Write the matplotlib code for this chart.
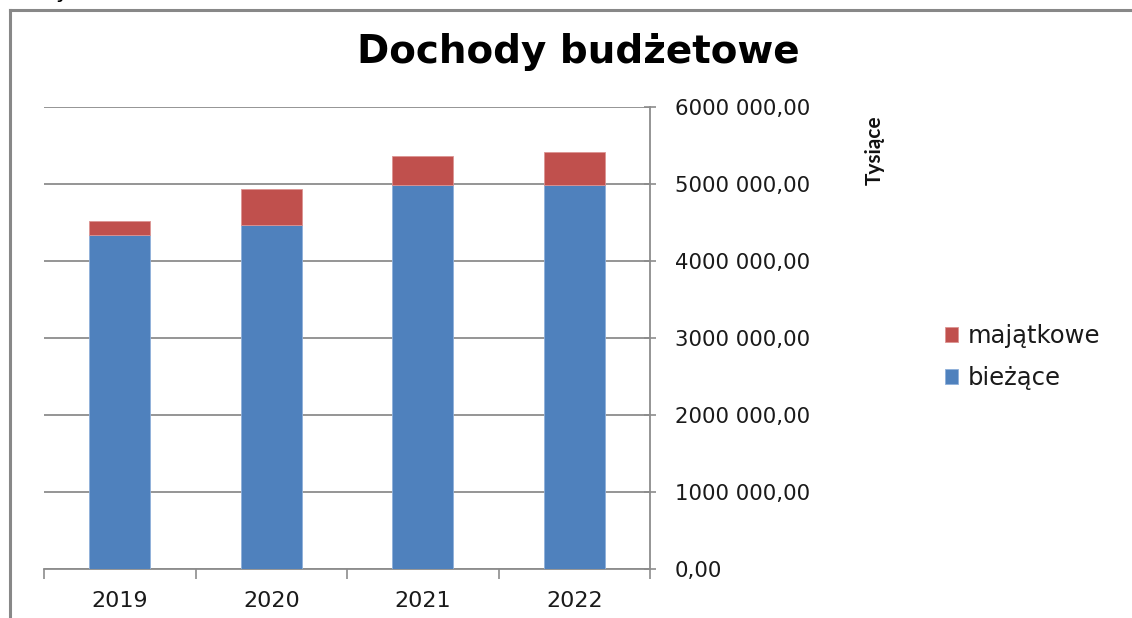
import matplotlib
matplotlib.use("Agg")
import matplotlib.pyplot as plt
from matplotlib.ticker import FuncFormatter, FixedLocator

lata = ["2019", "2020", "2021", "2022"]
biezace = [4337000, 4467000, 4982000, 4985000]
majatkowe = [178000, 463000, 381000, 434000]
y_ticks = [0, 1000000, 2000000, 3000000, 4000000, 5000000, 6000000]

plt.rcParams['font.family'] = ['DejaVu Sans']


def fmt_pl(v, pos=None):
    v = int(round(v))
    if v < 1000:
        return f"{v},00"
    return f"{v // 1000} {v % 1000:03d},00"


def main():
    fig = plt.figure(figsize=(11.32, 6.18), dpi=100)
    ax = fig.add_axes([44 / 1132, 49.3 / 618, 606 / 1132, 461.7 / 618])

    x = list(range(len(lata)))
    ax.bar(x, biezace, width=0.4, color='#4F81BD', edgecolor='#8FB0DA',
           linewidth=0.6, label='bieżące', zorder=3)
    ax.bar(x, majatkowe, width=0.4, bottom=biezace, color='#C0504D',
           edgecolor='#DC9492', linewidth=0.6, label='majątkowe', zorder=3)

    ax.set_xlim(-0.5, len(lata) - 0.5)
    ax.set_ylim(0, 6000000)
    ax.yaxis.set_major_locator(FixedLocator(y_ticks))
    ax.yaxis.set_major_formatter(FuncFormatter(fmt_pl))
    ax.yaxis.tick_right()
    ax.grid(axis='y', color='#8C8C8C', linewidth=1.3, zorder=0)

    ax.set_xticks(x)
    ax.set_xticklabels(lata)
    ax.set_xticks([i - 0.5 for i in range(len(lata) + 1)], minor=True)
    ax.tick_params(axis='x', which='major', length=0, pad=16,
                   labelsize=16, labelcolor='#1a1a1a')
    ax.tick_params(axis='x', which='minor', length=7, width=1.2,
                   color='#8C8C8C', direction='out')
    ax.tick_params(axis='y', which='major', length=8, width=1.2,
                   color='#8C8C8C', direction='inout', pad=14,
                   labelsize=15.3, labelcolor='#1a1a1a')

    for s in ['top', 'left']:
        ax.spines[s].set_visible(False)
    ax.spines['bottom'].set_color('#8C8C8C')
    ax.spines['bottom'].set_linewidth(1.3)
    ax.spines['right'].set_color('#8C8C8C')
    ax.spines['right'].set_linewidth(1.3)

    ax.text(1.371, 0.907, 'Tysiące', transform=ax.transAxes, rotation=90,
            ha='center', va='center', fontsize=15, fontweight='bold',
            family=['Lato', 'DejaVu Sans'], color='#111111')

    fig.text(578 / 1132, 1 - 63 / 618, 'Dochody budżetowe', ha='center',
             va='baseline', fontsize=28, fontweight='bold', color='#000000')

    handles, labels = ax.get_legend_handles_labels()
    fig.legend(handles[::-1], labels[::-1], loc='center left',
               bbox_to_anchor=(945 / 1132, 1 - 357 / 618), frameon=False,
               borderpad=0, borderaxespad=0,
               fontsize=17.5, handlelength=0.55, handleheight=0.55,
               handletextpad=0.4, labelspacing=0.75, labelcolor='#1a1a1a')

    # ramka wykresu
    fig.add_artist(plt.Line2D([10 / 1132, 1], [1 - 10 / 618, 1 - 10 / 618],
                              color='#888888', linewidth=2.2))
    fig.add_artist(plt.Line2D([10 / 1132, 10 / 1132], [0, 1 - 10 / 618],
                              color='#888888', linewidth=2.2))
    fig.text(55 / 1132, 1 + 8 / 618, 'y', ha='left', va='center',
             fontsize=16, color='#000000')

    fig.savefig("out.png", dpi=100)


if __name__ == "__main__":
    main()
